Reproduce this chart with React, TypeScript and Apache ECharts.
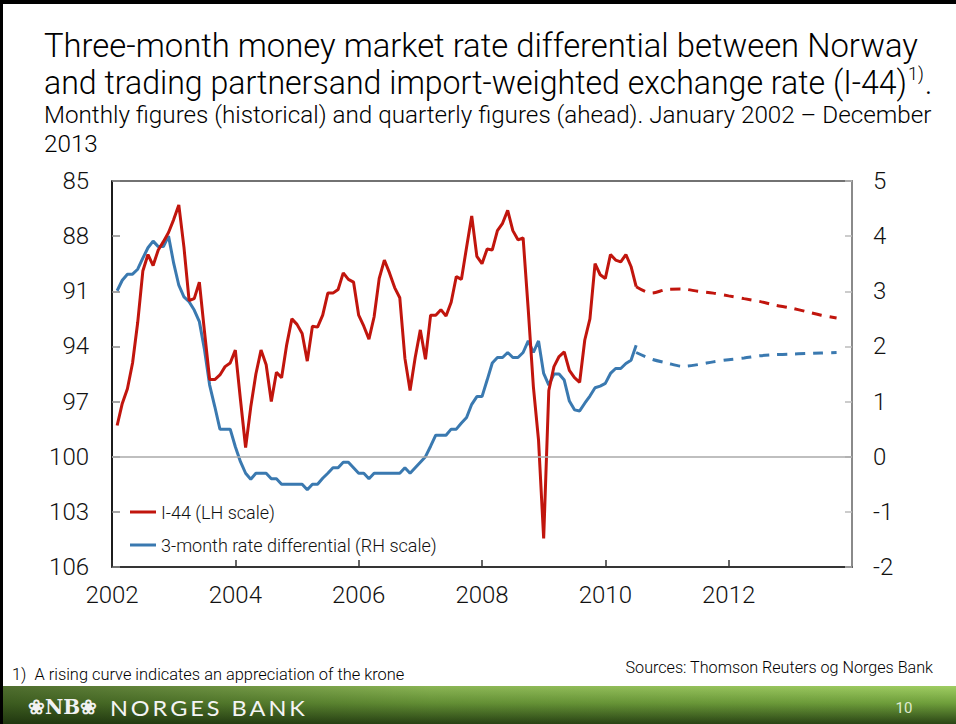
import React, { useEffect, useRef } from 'react';
import * as echarts from 'echarts';

// ---- Data ----
// Monthly figures, Jan 2002 – Jun 2010
const I44_MONTHLY = [
  98.3, 97.1, 96.3, 94.9, 92.7, 89.9, 89.0, 89.6, 88.75, 88.3, 87.8, 87.1,
  86.3, 88.6, 91.5, 91.4, 90.5, 93.2, 95.8, 95.8, 95.55, 95.1, 94.9, 94.2,
  96.9, 99.5, 97.3, 95.5, 94.2, 95.0, 97.0, 95.4, 95.7, 93.9, 92.5, 92.8,
  93.3, 94.8, 92.9, 92.95, 92.3, 91.1, 91.1, 90.9, 90.0, 90.35, 90.5, 92.3,
  92.9, 93.6, 92.4, 90.3, 89.3, 90.0, 90.8, 91.35, 94.65, 96.4, 94.6, 93.1,
  94.7, 92.3, 92.3, 92.0, 92.35, 91.6, 90.2, 90.35, 88.6, 86.9, 89.1, 89.5,
  88.7, 88.75, 87.7, 87.3, 86.6, 87.7, 88.2, 88.1, 92.0, 96.2, 99.1, 104.45,
  96.4, 95.1, 94.55, 94.3, 95.3, 95.7, 95.95, 93.65, 92.5, 89.5, 90.1, 90.3,
  89.0, 89.3, 89.4, 89.0, 89.65, 90.75,
];
const DIFF_MONTHLY = [
  3.01, 3.2, 3.31, 3.31, 3.4, 3.6, 3.79, 3.91, 3.81, 3.81, 4.0, 3.51,
  3.11, 2.9, 2.81, 2.66, 2.45, 1.94, 1.3, 0.91, 0.5, 0.5, 0.5, 0.18,
  -0.09, -0.3, -0.41, -0.3, -0.3, -0.3, -0.4, -0.4, -0.5, -0.5, -0.5, -0.5,
  -0.5, -0.6, -0.5, -0.5, -0.39, -0.3, -0.2, -0.2, -0.1, -0.1, -0.2, -0.3,
  -0.3, -0.4, -0.3, -0.3, -0.3, -0.3, -0.3, -0.3, -0.2, -0.3, -0.2, -0.1,
  0.0, 0.19, 0.39, 0.39, 0.39, 0.5, 0.5, 0.61, 0.71, 0.95, 1.09, 1.09,
  1.39, 1.7, 1.8, 1.8, 1.89, 1.8, 1.8, 1.89, 2.1, 1.89, 2.1, 1.51,
  1.3, 1.5, 1.5, 1.39, 1.01, 0.85, 0.83, 0.97, 1.1, 1.25, 1.28, 1.33,
  1.51, 1.6, 1.6, 1.69, 1.75, 2.02,
];
// Quarterly projections (from mid-2010 to 2013 Q3)
const I44_FORECAST = [90.75, 91.1, 90.9, 90.88, 91.0, 91.1, 91.25, 91.4, 91.55, 91.75, 91.9, 92.1, 92.3, 92.45];
const DIFF_FORECAST = [1.89, 1.77, 1.7, 1.64, 1.67, 1.72, 1.76, 1.79, 1.83, 1.85, 1.86, 1.87, 1.88, 1.89];

const MONTHLY_START_YEAR = 2002;
const FORECAST_START = 2010.5;
const X_MIN = 2002;
const X_MAX = 2014;
const X_STEP = 2;
const LEFT_MIN = 85;
const LEFT_MAX = 106;
const LEFT_STEP = 3;
const RIGHT_MIN = -2;
const RIGHT_MAX = 5;
const RIGHT_STEP = 1;

const RED_NAME = 'I-44 (LH scale)';
const BLUE_NAME = '3-month rate differential (RH scale)';

const TITLE_1 = 'Three-month money market rate differential between Norway';
const TITLE_2 = 'and trading partnersand import-weighted exchange rate (I-44)';
const TITLE_SUP = '1)';
const SUB_1 = 'Monthly figures (historical) and quarterly figures (ahead). January 2002 \u2013 December';
const SUB_2 = '2013';
const FOOTNOTE = '1)  A rising curve indicates an appreciation of the krone';
const SOURCES = 'Sources: Thomson Reuters og Norges Bank';

const RED = '#C1150D';
const BLUE = '#3A79B0';
const FONT = 'Roboto';

function textWidth(text: string, font: string): number {
  const c = document.createElement('canvas').getContext('2d');
  if (!c) return text.length * 10;
  c.font = font;
  return c.measureText(text).width;
}

export default function App() {
  const ref = useRef<HTMLDivElement>(null);

  useEffect(() => {
    if (!ref.current) return;
    const chart = echarts.init(ref.current, undefined, { renderer: 'svg' });

    const monthly = (arr: number[], offset: number) =>
      arr.map((v, i) => [MONTHLY_START_YEAR + (i + 1) / 12, v - offset]);
    const quarterly = (arr: number[], offset: number) =>
      arr.map((v, i) => [FORECAST_START + i * 0.25, v - offset]);

    // title fitting
    const tSize = 34;
    const s1 = 874 / textWidth(TITLE_1, `300 ${tSize}px ${FONT}`);
    const s1b = 863 / textWidth(TITLE_2, `300 ${tSize}px ${FONT}`);
    const supSize = 19;
    const wSup = textWidth(TITLE_SUP, `300 ${supSize}px ${FONT}`) * s1b;
    const sSize = 24;
    const s2 = 888 / textWidth(SUB_1, `300 ${sSize}px ${FONT}`);
    const fSize = 16;
    const sFoot = 393 / textWidth(FOOTNOTE, `300 ${fSize}px ${FONT}`);
    const sSrc = 308 / textWidth(SOURCES, `300 ${fSize}px ${FONT}`);
    const bankText = 'NORGES BANK'.split('').join('\u2009');
    const sBank = 195 / textWidth(bankText, `400 21px Lato`);

    const axisLabel = { fontFamily: FONT, fontWeight: 300, fontSize: 24, color: '#111' };

    const option: any = {
      animation: false,
      backgroundColor: '#ffffff',
      grid: {
        left: 112, right: 104, top: 181, bottom: 157,
        show: true, borderColor: '#444', borderWidth: 1.5, backgroundColor: 'transparent',
      },
      legend: {
        data: [RED_NAME, BLUE_NAME],
        orient: 'vertical',
        left: 130,
        top: 502,
        padding: 0,
        itemWidth: 26,
        itemHeight: 3,
        icon: 'rect',
        itemGap: 13,
        textStyle: { fontFamily: FONT, fontWeight: 300, fontSize: 18, color: '#111', lineHeight: 20 },
      },
      xAxis: {
        type: 'value',
        min: X_MIN, max: X_MAX, interval: X_STEP,
        axisLine: { show: true, onZero: false, lineStyle: { color: '#222', width: 1.5 } },
        axisTick: { show: true, inside: true, length: 7, lineStyle: { color: '#333', width: 1.5 } },
        axisLabel: { ...axisLabel, margin: 16, showMaxLabel: false, formatter: (v: number) => String(v) },
        splitLine: { show: false },
      },
      yAxis: [
        {
          type: 'value',
          inverse: true,
          position: 'left',
          min: 0, max: LEFT_MAX - LEFT_MIN, interval: LEFT_STEP,
          axisLine: { show: true, onZero: false, lineStyle: { color: '#000', width: 1.5 } },
          axisTick: { show: true, inside: true, length: 8, lineStyle: { color: '#888', width: 1.5 } },
          axisLabel: { ...axisLabel, margin: 23, formatter: (v: number) => String(v + LEFT_MIN) },
          splitLine: { show: false },
        },
        {
          type: 'value',
          position: 'right',
          min: RIGHT_MIN, max: RIGHT_MAX, interval: RIGHT_STEP,
          axisLine: { show: true, onZero: false, lineStyle: { color: '#8a8a8a', width: 2 } },
          axisTick: { show: true, inside: true, length: 7, lineStyle: { color: '#bbb', width: 1.5 } },
          axisLabel: { ...axisLabel, margin: 21 },
          splitLine: { show: false },
        },
      ],
      series: [
        {
          name: BLUE_NAME,
          type: 'line',
          yAxisIndex: 1,
          data: monthly(DIFF_MONTHLY, 0),
          showSymbol: false,
          symbol: 'none',
          lineStyle: { color: BLUE, width: 3 },
          itemStyle: { color: BLUE },
          markLine: {
            silent: true,
            symbol: ['none', 'none'],
            label: { show: false },
            lineStyle: { color: '#aaaaaa', width: 1.5, type: 'solid' },
            data: [{ yAxis: 0 }],
          },
        },
        {
          name: 'diff-forecast',
          type: 'line',
          yAxisIndex: 1,
          data: quarterly(DIFF_FORECAST, 0),
          symbol: 'none',
          smooth: 0.3,
          lineStyle: { color: BLUE, width: 3, type: [10, 8] },
          itemStyle: { color: BLUE },
        },
        {
          name: RED_NAME,
          type: 'line',
          yAxisIndex: 0,
          data: monthly(I44_MONTHLY, LEFT_MIN),
          symbol: 'none',
          lineStyle: { color: RED, width: 3 },
          itemStyle: { color: RED },
        },
        {
          name: 'i44-forecast',
          type: 'line',
          yAxisIndex: 0,
          data: quarterly(I44_FORECAST, LEFT_MIN),
          symbol: 'none',
          smooth: 0.3,
          lineStyle: { color: RED, width: 3, type: [10, 8] },
          itemStyle: { color: RED },
        },
      ],
      graphic: {
        elements: [
          { type: 'rect', left: 0, top: 0, shape: { width: 956, height: 4 }, style: { fill: '#000' } },
          { type: 'rect', left: 0, top: 0, shape: { width: 3, height: 724 }, style: { fill: '#000' } },
          {
            type: 'rect', x: 0, y: 686, shape: { x: 0, y: 0, width: 956, height: 38 },
            style: {
              fill: new echarts.graphic.LinearGradient(0, 0, 0, 1, [
                { offset: 0, color: '#9fcd62' },
                { offset: 0.45, color: '#6f9f3b' },
                { offset: 1, color: '#2a4515' },
              ]),
            },
          },
          {
            type: 'rect', x: 0, y: 686, shape: { x: 0, y: 0, width: 956, height: 38 },
            style: {
              fill: new echarts.graphic.LinearGradient(0, 0, 1, 0, [
                { offset: 0, color: 'rgba(25,45,12,0.6)' },
                { offset: 0.45, color: 'rgba(25,45,12,0.15)' },
                { offset: 1, color: 'rgba(25,45,12,0)' },
              ]),
            },
          },
          { type: 'rect', left: 0, top: 686, shape: { width: 3, height: 38 }, style: { fill: '#000' } },
          {
            type: 'text', x: 28, y: 707,
            style: { text: '\u2740NB\u2740', fontFamily: 'DejaVu Serif', fontSize: 20, fontWeight: 'bold', fill: '#f2f2f2', verticalAlign: 'middle', align: 'left' },
          },
          {
            type: 'text', x: 110, y: 708, scaleX: sBank,
            style: { text: bankText, fontFamily: 'Lato', fontSize: 21, fill: '#f4f4f4', verticalAlign: 'middle', align: 'left' },
          },
          {
            type: 'text', x: 904, y: 708,
            style: { text: '10', fontFamily: FONT, fontSize: 15, fill: '#dfead2', verticalAlign: 'middle', align: 'center' },
          },
          // Title
          {
            type: 'text', x: 44, y: 45, scaleX: s1,
            style: { text: TITLE_1, fontFamily: FONT, fontWeight: 300, fontSize: tSize, fill: '#000', verticalAlign: 'middle', align: 'left' },
          },
          {
            type: 'text', x: 44, y: 82, scaleX: s1b,
            style: { text: TITLE_2, fontFamily: FONT, fontWeight: 300, fontSize: tSize, fill: '#000', verticalAlign: 'middle', align: 'left' },
          },
          {
            type: 'text', x: 44 + 863 + 1, y: 74, scaleX: s1b,
            style: { text: TITLE_SUP, fontFamily: FONT, fontWeight: 300, fontSize: supSize, fill: '#000', verticalAlign: 'middle', align: 'left' },
          },
          {
            type: 'text', x: 44 + 863 + wSup + 2, y: 82, scaleX: s1b,
            style: { text: '.', fontFamily: FONT, fontWeight: 300, fontSize: tSize, fill: '#000', verticalAlign: 'middle', align: 'left' },
          },
          {
            type: 'text', x: 44, y: 115, scaleX: s2,
            style: { text: SUB_1, fontFamily: FONT, fontWeight: 300, fontSize: sSize, fill: '#000', verticalAlign: 'middle', align: 'left' },
          },
          {
            type: 'text', x: 44, y: 144, scaleX: s2,
            style: { text: SUB_2, fontFamily: FONT, fontWeight: 300, fontSize: sSize, fill: '#000', verticalAlign: 'middle', align: 'left' },
          },
          // Footnote and sources
          {
            type: 'text', x: 12, y: 675, scaleX: sFoot,
            style: { text: FOOTNOTE, fontFamily: FONT, fontWeight: 300, fontSize: fSize, fill: '#000', verticalAlign: 'middle', align: 'left' },
          },
          {
            type: 'text', x: 933, y: 668, scaleX: sSrc,
            style: { text: SOURCES, fontFamily: FONT, fontWeight: 300, fontSize: fSize, fill: '#000', verticalAlign: 'middle', align: 'right' },
          },
        ],
      },
    };

    chart.setOption(option);
    return () => chart.dispose();
  }, []);

  return (
    <div
      ref={ref}
      style={{ position: 'fixed', left: 0, top: 0, width: 956, height: 724, background: '#fff' }}
    />
  );
}
